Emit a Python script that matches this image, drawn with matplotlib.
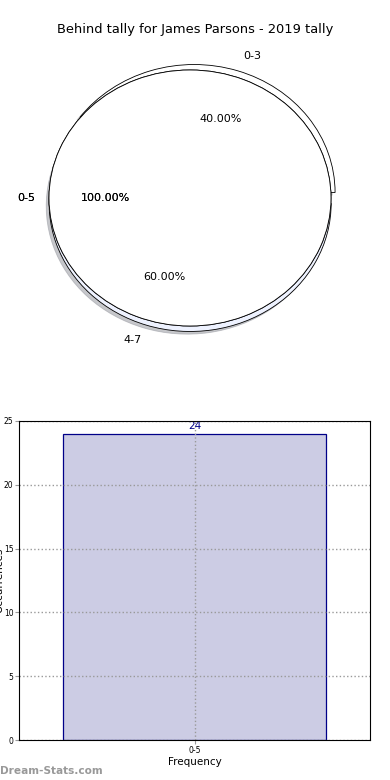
import matplotlib.pyplot as plt

# pie data
split_labels = ["0-3", "4-7"]
split_values = [40, 60]
full_labels = ["0-5"]
full_values = [24]

# bar data
bar_labels = ["0-5"]
bar_values = [24]

fig = plt.figure(figsize=(3.9, 7.8), dpi=100)
W, H = 390.0, 780.0

fig.text(195 / W, 1 - 30 / H, "Behind tally for James Parsons - 2019 tally",
         ha="center", va="center", fontsize=9.4)

# pie axes, elliptic: rx=141px, ry=128px, centre (190,198)
cx, cy, rx, ry = 190, 198, 141, 128
lim = 1.3
ax1 = fig.add_axes([(cx - rx * lim) / W, 1 - (cy + ry * lim) / H,
                    2 * rx * lim / W, 2 * ry * lim / H])
ax1.pie(split_values, labels=split_labels, autopct="%.2f%%", startangle=0,
        explode=[0.045, 0.045], colors=["white", "#eef2ff"],
        shadow={"ox": -0.015, "oy": -0.015, "shade": 0.4},
        center=(0.015, 0), radius=1.0,
        labeldistance=1.12, pctdistance=0.6,
        wedgeprops=dict(edgecolor="black", linewidth=0.6),
        textprops=dict(fontsize=8))
# full pie drawn twice like the source (gives the heavier label text)
for _ in range(2):
    ax1.pie(full_values, labels=full_labels, autopct="%.2f%%", startangle=0,
            colors=["white"], labeldistance=1.1, pctdistance=0.6,
            wedgeprops=dict(edgecolor="black", linewidth=0.6),
            textprops=dict(fontsize=8))
ax1.set_aspect("auto")
ax1.set_xlim(-lim, lim)
ax1.set_ylim(-lim, lim)

# bar axes
ax2 = fig.add_axes([19 / W, 1 - 740 / H, (370 - 19) / W, (740 - 421) / H])
bars = ax2.bar(range(len(bar_values)), bar_values, width=0.75,
               color="#ccccE4", edgecolor="#000088", linewidth=0.9, zorder=2)
for b, v in zip(bars, bar_values):
    ax2.text(b.get_x() + b.get_width() / 2, v + 0.2, str(v), ha="center",
             va="bottom", color="#000088", fontsize=7.5, zorder=4)
ax2.set_xlim(-0.5, 0.5)
ax2.set_ylim(0, 25)
ax2.set_xticks(range(len(bar_labels)))
ax2.set_xticklabels(bar_labels)
ax2.set_yticks([0, 5, 10, 15, 20, 25])
ax2.tick_params(labelsize=5.5, length=3, color="#999999", pad=1)
ax2.set_axisbelow(False)
ax2.grid(True, linestyle=":", color="#999999", linewidth=1, zorder=3)
for sp in ax2.spines.values():
    sp.set_zorder(5)
ax2.set_xlabel("Frequency", fontsize=7.5, labelpad=2)
ax2.set_ylabel("Occurrences", fontsize=7.5)
ax2.yaxis.set_label_coords(-15 / 351, 0.5)

fig.text(0 / W, 1 - 771 / H, "Dream-Stats.com", ha="left", va="center",
         fontsize=7.6, color="#999999", fontweight="bold")

fig.savefig("out.png", dpi=100)
